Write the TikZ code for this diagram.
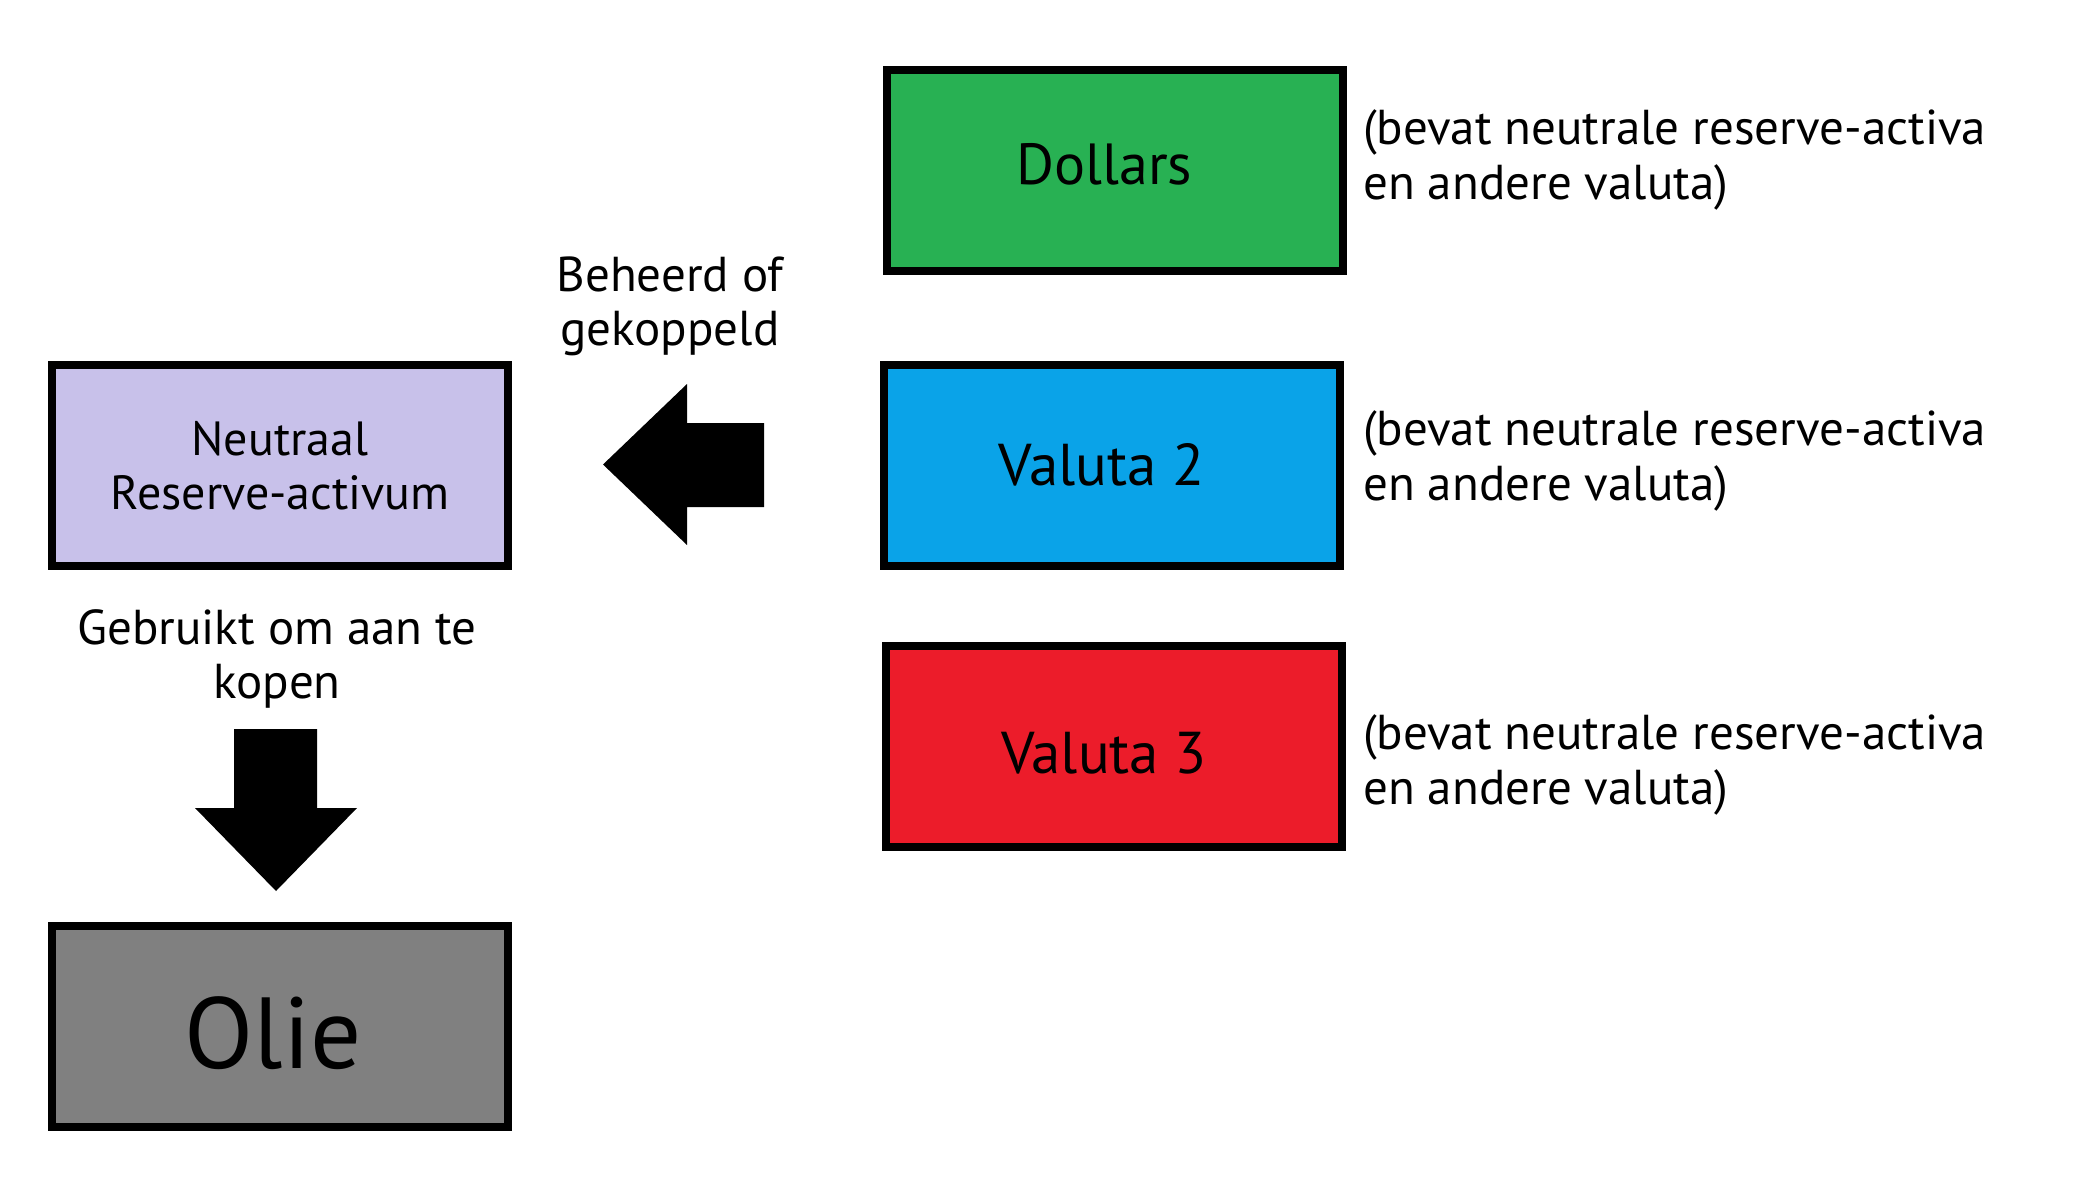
\documentclass[tikz,border=0pt]{standalone}
\usepackage{fontspec}
\setmainfont{PT Sans}
\usetikzlibrary{positioning}

\definecolor{dollargreen}{RGB}{40,177,83}
\definecolor{valutablue}{RGB}{10,163,232}
\definecolor{valutared}{RGB}{236,28,42}
\definecolor{reservelilac}{RGB}{200,193,234}
\definecolor{oliegray}{RGB}{128,128,128}

\tikzset{
	currency/.style={draw=black, line width=8pt, minimum width=456pt, minimum height=201pt, inner sep=0pt},
	note/.style={align=left, inner sep=0pt, anchor=base west, font=\fontsize{49}{55}\selectfont},
	flowtext/.style={align=center, inner sep=0pt, anchor=base, font=\fontsize{49}{54}\selectfont},
	blockarrow/.style={fill=black}
}

\begin{document}
\begin{tikzpicture}
				\useasboundingbox (0,0) rectangle (2092pt,-1185pt);
				\node[currency, fill=dollargreen, font=\fontsize{58}{70}\selectfont] (dollars) at (1114.5pt,-170.5pt) {\raisebox{6pt}[\height][\depth]{Dollars}\hspace*{20pt}};
				\node[currency, fill=valutablue, font=\fontsize{59}{70}\selectfont] (valuta2) at (1111.5pt,-465pt) {Valuta 2\hspace*{20pt}};
				\node[currency, fill=valutared, font=\fontsize{59}{70}\selectfont] (valuta3) at (1114pt,-746.5pt) {\raisebox{-7pt}[\height][\depth]{Valuta 3}\hspace*{20pt}};
				\node[currency, fill=reservelilac, align=center, font=\fontsize{48}{54}\selectfont] (neutraal) at (280pt,-465.5pt) {Neutraal\\Reserve-activum};
				\node[currency, fill=oliegray, font=\fontsize{101}{110}\selectfont] (olie) at (280pt,-1026pt) {\raisebox{-7pt}[\height][\depth]{Olie}\hspace*{14pt}};
				\node[note] (notedollars) at (1363pt,-200pt) {(bevat neutrale reserve-activa\\en andere valuta)};
				\node[note] (notevaluta2) at (1363pt,-500pt) {(bevat neutrale reserve-activa\\en andere valuta)};
				\node[note] (notevaluta3) at (1363pt,-804pt) {(bevat neutrale reserve-activa\\en andere valuta)};
				\node[flowtext] (beheerd) at (670pt,-345pt) {Beheerd of\\gekoppeld};
				\node[flowtext] (gebruikt) at (277pt,-698pt) {Gebruikt om aan te\\kopen};
				\fill[blockarrow] (603pt,-464.5pt) -- (687pt,-384pt) -- (687pt,-423pt) -- (764pt,-423pt) -- (764pt,-507pt) -- (687pt,-507pt) -- (687pt,-545pt) -- cycle;
				\fill[blockarrow] (234pt,-729pt) -- (317pt,-729pt) -- (317pt,-808pt) -- (357pt,-808pt) -- (276pt,-891pt) -- (195pt,-808pt) -- (234pt,-808pt) -- cycle;
			\end{tikzpicture}
\end{document}
